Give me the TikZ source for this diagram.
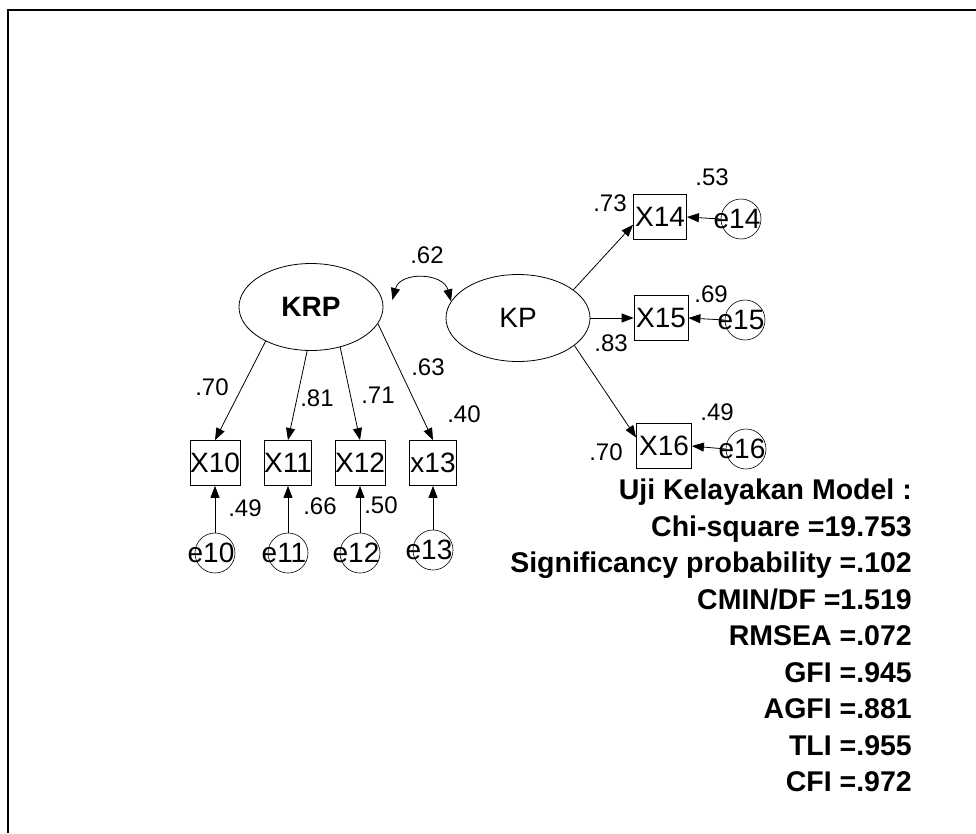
\documentclass[tikz,border=0pt]{standalone}
\usepackage{fontspec}
\setmainfont{Liberation Sans}
\usepackage{tikz}
\usetikzlibrary{shapes.geometric,arrows.meta,positioning,calc}

\begin{document}
\begin{tikzpicture}[
  x=1pt,y=-1pt,
  latent/.style={ellipse,draw,line width=0.8pt,minimum width=144pt,minimum height=87pt,
                 font=\fontsize{28}{30}\selectfont},
  obs/.style={rectangle,draw,line width=0.8pt,minimum width=47pt,minimum height=45pt,
              inner sep=0pt,font=\fontsize{28}{30}\selectfont},
  err/.style={circle,draw,line width=0.6pt,minimum size=40pt,inner sep=0pt,
              label={[font=\fontsize{28}{30}\selectfont,xshift=-4pt]center:#1}},
  coef/.style={inner sep=0pt,font=\fontsize{24}{26}\selectfont},
  arrow/.style={-{Triangle[length=12pt,width=9pt]},line width=0.8pt},
  covar/.style={{Triangle[length=12pt,width=9pt]}-{Triangle[length=12pt,width=9pt]},line width=0.8pt}
]
\useasboundingbox (0,0) rectangle (976,833);
\draw[line width=2pt] (8,833) -- (8,10) -- (976,10);

% latent variables
\node[latent] (KRP) at (311,307) {\textbf{KRP}};
\node[latent] (KP)  at (518,318) {KP};

% indicators
\node[obs] (X10) at (215,463) {X10};
\node[obs] (X11) at (288,463) {X11};
\node[obs] (X12) at (360,463) {X12};
\node[obs] (X13) at (433,463) {x13};
\node[obs,minimum width=53pt] (X14) at (660,217) {X14};
\node[obs,minimum width=54pt] (X15) at (661,318) {X15};
\node[obs,minimum width=55pt] (X16) at (664,446) {X16};

% error terms
\node[err=e10] (c10) at (215,553) {};
\node[err=e11] (c11) at (288,553) {};
\node[err=e12] (c12) at (360,553) {};
\node[err=e13] (c13) at (433,550) {};
\node[err=e14] (c14) at (741,219) {};
\node[err=e15] (c15) at (745,320) {};
\node[err=e16] (c16) at (746,449) {};

% loadings
\draw[arrow] (KRP.217) -- (X10.north);
\draw[arrow] (KRP.265) -- (X11.north);
\draw[arrow] (KRP.-54) -- (X12.north);
\draw[arrow] (KRP.-14) -- (X13.north);
\draw[arrow] (KP.27)   -- (X14.196);
\draw[arrow] (KP.east) -- (X15.west);
\draw[arrow] (KP.-26)  -- (X16.163);

% errors
\draw[arrow] (c10.north) -- (X10.south);
\draw[arrow] (c11.north) -- (X11.south);
\draw[arrow] (c12.north) -- (X12.south);
\draw[arrow] (c13.north) -- (X13.south);
\draw[arrow] (c14.west) -- (X14.east);
\draw[arrow] (c15.west) -- (X15.east);
\draw[arrow] (c16.west) -- (X16.east);

% correlation
\draw[covar] ([shift={(9pt,7pt)}]KRP.east) to[out=75,in=105,looseness=1.3] (KP.166);

% estimates
\node[coef] (l62) at (427,255) {.62};
\node[coef] (l70) at (212,387) {.70};
\node[coef] (l81) at (317,398) {.81};
\node[coef] (l71) at (378,395) {.71};
\node[coef] (l63) at (428,367) {.63};
\node[coef] (r13) at (464,414) {.40};
\node[coef] (r10) at (245,508) {.49};
\node[coef] (r11) at (320,506) {.66};
\node[coef] (r12) at (381,505) {.50};
\node[coef] (l73) at (610,203) {.73};
\node[coef] (r14) at (712,177) {.53};
\node[coef] (r15) at (711,294) {.69};
\node[coef] (l83) at (611,343) {.83};
\node[coef] (r16) at (717,412) {.49};
\node[coef] (l70b) at (606,452) {.70};

% fit indices
\node[anchor=north east,align=right,inner sep=0pt,
      font=\fontsize{28.5}{36.5}\selectfont\bfseries] (fit) at (912,479)
  {Uji Kelayakan Model :\\ Chi-square =19.753\\ Significancy probability =.102\\
   CMIN/DF =1.519\\ RMSEA =.072\\ GFI =.945\\ AGFI =.881\\ TLI =.955\\ CFI =.972};
\end{tikzpicture}
\end{document}
